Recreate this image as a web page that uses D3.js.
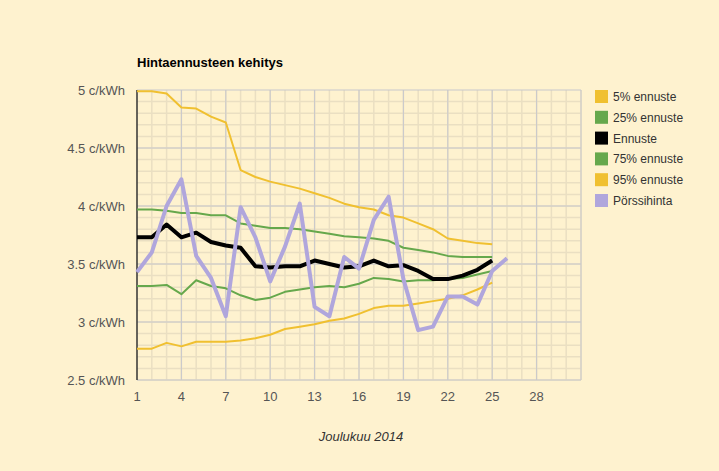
<!DOCTYPE html>
<style>
body { margin: 0; background: #fef2cf; }
text { font-family: Arial, "Liberation Sans", sans-serif; }
</style>
<svg width="719" height="471"></svg>
<script src="https://d3js.org/d3.v7.min.js"></script>
<script>
var days = d3.range(1, 26);
var p95 = [4.99,4.99,4.97,4.85,4.84,4.77,4.72,4.31,4.25,4.21,4.18,4.15,4.11,4.07,4.02,3.99,3.97,3.92,3.9,3.85,3.8,3.72,3.7,3.68,3.67];
var p75 = [3.97,3.97,3.96,3.94,3.94,3.92,3.92,3.85,3.83,3.81,3.81,3.8,3.78,3.76,3.74,3.73,3.72,3.7,3.64,3.62,3.6,3.57,3.56,3.56,3.56];
var ennuste = [3.73,3.73,3.84,3.73,3.77,3.69,3.66,3.64,3.48,3.47,3.48,3.48,3.53,3.5,3.47,3.48,3.53,3.48,3.49,3.44,3.37,3.37,3.4,3.45,3.53];
var p25 = [3.31,3.31,3.32,3.24,3.36,3.31,3.29,3.23,3.19,3.21,3.26,3.28,3.3,3.31,3.3,3.33,3.38,3.37,3.35,3.36,3.36,3.37,3.38,3.41,3.44];
var p5 = [2.77,2.77,2.82,2.79,2.83,2.83,2.83,2.84,2.86,2.89,2.94,2.96,2.98,3.01,3.03,3.07,3.12,3.14,3.14,3.16,3.18,3.2,3.23,3.28,3.34];
var porssi = [3.43,3.6,4.0,4.23,3.57,3.38,3.05,3.99,3.73,3.35,3.65,4.02,3.13,3.05,3.56,3.46,3.88,4.08,3.37,2.93,2.96,3.22,3.22,3.15,3.44,3.55];
var xTicks = [1,4,7,10,13,16,19,22,25,28];
var yTicks = [2.5,3,3.5,4,4.5,5];

var series = [
  {name: "5% ennuste", values: p5, color: "#f0c030", width: 2},
  {name: "25% ennuste", values: p25, color: "#66a84c", width: 2},
  {name: "Ennuste", values: ennuste, color: "#000", width: 4},
  {name: "75% ennuste", values: p75, color: "#66a84c", width: 2},
  {name: "95% ennuste", values: p95, color: "#f0c030", width: 2},
  {name: "Pörssihinta", values: porssi, color: "#b0a6dc", width: 4}
];

var svg = d3.select("svg");
svg.append("rect").attr("width", 719).attr("height", 471).attr("fill", "#fef2cf");

var x = d3.scaleLinear().domain([1, 31]).range([137, 581]);
var y = d3.scaleLinear().domain([2.5, 5]).range([380, 90]);

// minor grid
svg.append("g").selectAll("line").data(d3.range(2, 32)).enter().append("line")
  .attr("x1", d => x(d)).attr("x2", d => x(d)).attr("y1", 90).attr("y2", 380)
  .attr("stroke", "#eadfc2").attr("stroke-width", 1.5);
svg.append("g").selectAll("line").data(d3.range(25, 50).map(d => d / 10)).enter().append("line")
  .attr("x1", 137).attr("x2", 581).attr("y1", d => y(d)).attr("y2", d => y(d))
  .attr("stroke", "#eadfc2").attr("stroke-width", 1.5);
// major grid
svg.append("g").selectAll("line").data(xTicks.slice(1).concat([31])).enter().append("line")
  .attr("x1", d => x(d)).attr("x2", d => x(d)).attr("y1", 90).attr("y2", 380)
  .attr("stroke", "#c8c8cc");
svg.append("g").selectAll("line").data(yTicks).enter().append("line")
  .attr("x1", 137).attr("x2", 581).attr("y1", d => y(d)).attr("y2", d => y(d))
  .attr("stroke", "#c8c8cc");
svg.append("line").attr("x1", 137).attr("x2", 137).attr("y1", 90).attr("y2", 380)
  .attr("stroke", "#333").attr("stroke-width", 1.5);

svg.append("g").selectAll("text").data(yTicks).enter().append("text")
  .attr("x", 125).attr("y", d => y(d) + 5).attr("text-anchor", "end")
  .attr("font-size", 13).attr("fill", "#555").text(d => d + " c/kWh");
svg.append("g").selectAll("text").data(xTicks).enter().append("text")
  .attr("x", d => x(d)).attr("y", 401).attr("text-anchor", "middle")
  .attr("font-size", 13).attr("fill", "#555").text(d => d);

var line = d3.line().x((d, i) => x(i + 1)).y(d => y(d));
series.forEach(function(s) {
  svg.append("path").datum(s.values).attr("fill", "none")
    .attr("stroke", s.color).attr("stroke-width", s.width)
    .attr("stroke-linejoin", "round").attr("d", line);
});

svg.append("text").attr("x", 137).attr("y", 67).attr("font-size", 13)
  .attr("font-weight", "bold").text("Hintaennusteen kehitys");
svg.append("text").attr("x", 361).attr("y", 441).attr("text-anchor", "middle")
  .attr("font-size", 13).attr("font-style", "italic").attr("fill", "#333").text("Joulukuu 2014");

var leg = svg.append("g").selectAll("g").data(series).enter().append("g")
  .attr("transform", (d, i) => "translate(595," + (90 + i * 20.8) + ")");
leg.append("rect").attr("width", 13).attr("height", 13).attr("fill", d => d.color);
leg.append("text").attr("x", 18).attr("y", 11).attr("font-size", 12).attr("fill", "#333").text(d => d.name);
</script>
